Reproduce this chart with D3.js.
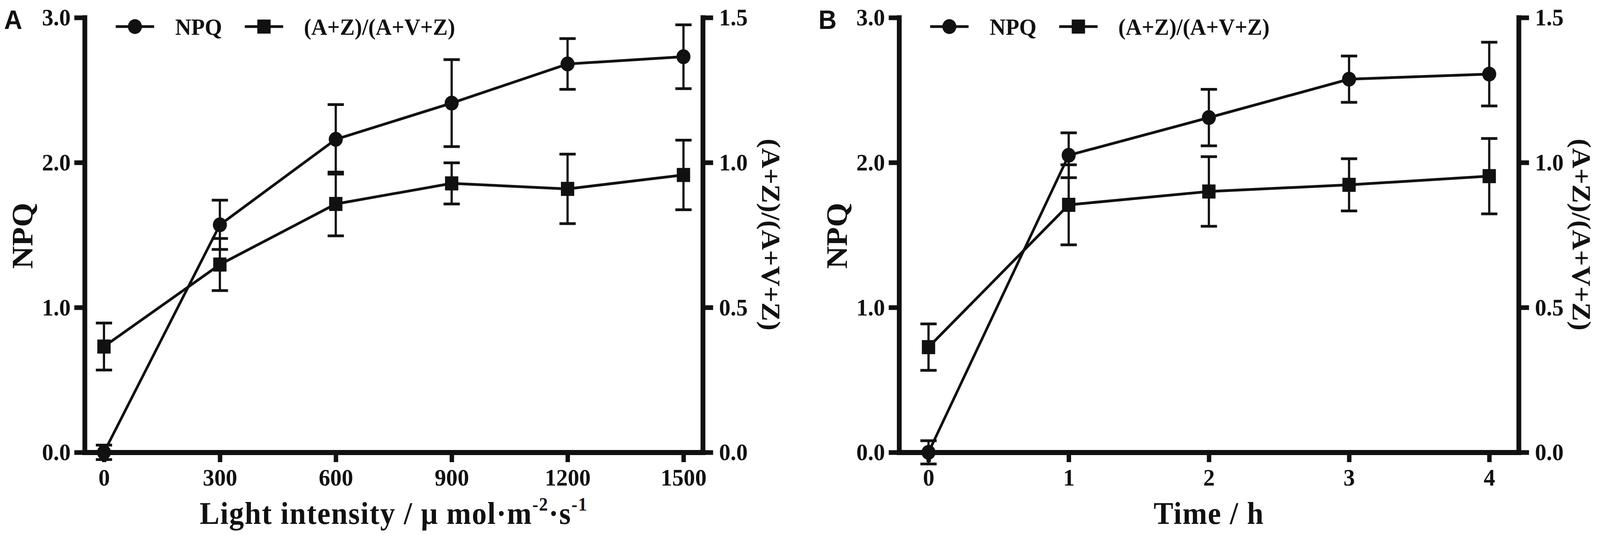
<!DOCTYPE html>
<html>
<head>
<meta charset="utf-8">
<script src="https://cdn.jsdelivr.net/npm/d3@7"></script>
<style>
  html, body { margin: 0; padding: 0; background: #fff; overflow: hidden; }
  .chart svg { display: block; width: 100vw; height: 100vh; }
</style>
</head>
<body>
<div class="chart"></div>
<script>
// panel A: light intensity
const lightLevels = [0, 300, 600, 900, 1200, 1500];
const npqLight = [0, 1.57, 2.16, 2.41, 2.68, 2.73];
const npqLightErr = [0.05, 0.17, 0.24, 0.30, 0.175, 0.22];
const ratioLight = [0.365, 0.648, 0.857, 0.928, 0.909, 0.957];
const ratioLightErr = [0.081, 0.09, 0.11, 0.071, 0.12, 0.12];

// panel B: time
const timePoints = [0, 1, 2, 3, 4];
const npqTime = [0, 2.05, 2.31, 2.575, 2.61];
const npqTimeErr = [0.08, 0.155, 0.195, 0.16, 0.22];
const ratioTime = [0.363, 0.854, 0.90, 0.923, 0.953];
const ratioTimeErr = [0.08, 0.138, 0.12, 0.09, 0.13];

// tick labels
const npqTicks = [0, 1, 2, 3];
const ratioTicks = [0, 0.5, 1.0, 1.5];
const lightTicks = [0, 300, 600, 900, 1200, 1500];
const timeTicks = [0, 1, 2, 3, 4];

const legendNames = ['NPQ', '(A+Z)/(A+V+Z)'];

const width = 4328;
const height = 1371;
const ink = '#111';
const serif = '"Liberation Serif", "Times New Roman", serif';

// the svg fills the window whatever its real size
const svg = d3.select('.chart')
    .append('svg')
    .attr('viewBox', `0 0 ${width} ${height}`)
    .attr('preserveAspectRatio', 'none');

svg.append('rect').attr('width', width).attr('height', height).attr('fill', '#fff');

drawPanel({
    letter: 'A',
    x: lightLevels, npq: npqLight, npqErr: npqLightErr, ratio: ratioLight, ratioErr: ratioLightErr,
    xTicks: lightTicks, xDomain: [-50, 1550], xRange: [229, 1901],
    xTitle: 'light', rightOffset: 160
});

drawPanel({
    letter: 'B',
    x: timePoints, npq: npqTime, npqErr: npqTimeErr, ratio: ratioTime, ratioErr: ratioTimeErr,
    xTicks: timeTicks, xDomain: [-0.21, 4.21], xRange: [2432, 4108],
    xTitle: 'time', rightOffset: 146
});

function label(sel) {
    return sel.attr('font-family', serif).attr('font-weight', 'bold').attr('fill', ink);
}

function drawPanel(p) {
    const left = p.xRange[0];
    const right = p.xRange[1];
    const x = d3.scaleLinear().domain(p.xDomain).range(p.xRange);
    const y = d3.scaleLinear().domain([0, 3]).range([1157, 45]);
    const y2 = d3.scaleLinear().domain([0, 1.5]).range([1157, 45]);

    const g = svg.append('g');

    // axes
    const xAxis = g.append('g')
        .attr('transform', `translate(0,${y(0)})`)
        .call(d3.axisBottom(x).tickValues(p.xTicks).tickFormat(d3.format('d'))
            .tickSize(25).tickSizeOuter(0).tickPadding(16));
    const yAxis = g.append('g')
        .attr('transform', `translate(${left},0)`)
        .call(d3.axisLeft(y).tickValues(npqTicks).tickFormat(d3.format('.1f'))
            .tickSize(28).tickSizeOuter(0).tickPadding(10));
    const y2Axis = g.append('g')
        .attr('transform', `translate(${right},0)`)
        .call(d3.axisRight(y2).tickValues(ratioTicks).tickFormat(d3.format('.1f'))
            .tickSize(28).tickSizeOuter(0).tickPadding(16));

    [xAxis, yAxis, y2Axis].forEach(a => {
        a.select('.domain').attr('stroke', ink).attr('stroke-width', 13).attr('stroke-linecap', 'square');
        a.selectAll('.tick line').attr('stroke', ink).attr('stroke-width', 12);
        a.selectAll('.tick text')
            .call(label)
            .attr('font-size', '62px');
    });

    // axis titles
    g.append('text')
        .call(label)
        .attr('transform', `translate(${left - 141},603) rotate(-90)`)
        .attr('text-anchor', 'middle')
        .attr('font-size', '80px')
        .text('NPQ');

    g.append('text')
        .call(label)
        .attr('transform', `translate(${right + p.rightOffset},600) rotate(90)`)
        .attr('text-anchor', 'middle')
        .attr('font-size', '72px')
        .text('(A+Z)/(A+V+Z)');

    const xt = g.append('text')
        .call(label)
        .attr('x', (left + right) / 2)
        .attr('y', 1340)
        .attr('text-anchor', 'middle')
        .attr('font-size', '80px')
        .attr('letter-spacing', 2);
    if (p.xTitle === 'light') {
        xt.append('tspan').text('Light intensity / \u03bc mol\u00b7m');
        xt.append('tspan').attr('font-size', '48px').attr('dy', -34).text('-2');
        xt.append('tspan').attr('dy', 34).text('\u00b7s');
        xt.append('tspan').attr('font-size', '48px').attr('dy', -34).text('-1');
    } else {
        xt.text('Time / h');
    }

    // panel letter
    g.append('text')
        .attr('x', left - 218)
        .attr('y', 74)
        .attr('font-family', '"Liberation Sans", Arial, sans-serif')
        .attr('font-weight', 'bold')
        .attr('fill', ink)
        .attr('font-size', '68px')
        .text(p.letter);

    // series
    const npqData = p.x.map((v, i) => ({ x: v, y: p.npq[i], e: p.npqErr[i] }));
    const ratioData = p.x.map((v, i) => ({ x: v, y: p.ratio[i], e: p.ratioErr[i] }));

    const series = [
        { data: ratioData, scale: y2, shape: 'square' },
        { data: npqData, scale: y, shape: 'circle' }
    ];

    series.forEach(s => {
        const line = d3.line().x(d => x(d.x)).y(d => s.scale(d.y));
        g.append('path')
            .datum(s.data)
            .attr('d', line)
            .attr('fill', 'none')
            .attr('stroke', ink)
            .attr('stroke-width', 7);
    });

    series.forEach(s => {
        // error bars
        const eb = g.selectAll(null)
            .data(s.data)
            .enter()
            .append('g');
        eb.append('line')
            .attr('x1', d => x(d.x)).attr('x2', d => x(d.x))
            .attr('y1', d => s.scale(d.y - d.e)).attr('y2', d => s.scale(d.y + d.e))
            .attr('stroke', ink).attr('stroke-width', 6);
        [-1, 1].forEach(sign => {
            eb.append('line')
                .attr('x1', d => x(d.x) - 22).attr('x2', d => x(d.x) + 22)
                .attr('y1', d => s.scale(d.y + sign * d.e)).attr('y2', d => s.scale(d.y + sign * d.e))
                .attr('stroke', ink).attr('stroke-width', 7);
        });
    });

    series.forEach(s => {
        // markers
        if (s.shape === 'circle') {
            g.selectAll(null)
                .data(s.data)
                .enter()
                .append('circle')
                .attr('cx', d => x(d.x))
                .attr('cy', d => s.scale(d.y))
                .attr('r', 19)
                .attr('fill', ink);
        } else {
            g.selectAll(null)
                .data(s.data)
                .enter()
                .append('rect')
                .attr('x', d => x(d.x) - 18)
                .attr('y', d => s.scale(d.y) - 18)
                .attr('width', 36)
                .attr('height', 36)
                .attr('fill', ink);
        }
    });

    // legend
    const leg = g.append('g').attr('transform', `translate(${left},68)`);
    leg.append('line').attr('x1', 84).attr('x2', 188).attr('stroke', ink).attr('stroke-width', 7);
    leg.append('circle').attr('cx', 136).attr('r', 19).attr('fill', ink);
    leg.append('text').call(label).attr('x', 245).attr('y', 21).attr('font-size', '60px').text(legendNames[0]);
    leg.append('line').attr('x1', 433).attr('x2', 537).attr('stroke', ink).attr('stroke-width', 7);
    leg.append('rect').attr('x', 467).attr('y', -18).attr('width', 36).attr('height', 36).attr('fill', ink);
    leg.append('text').call(label).attr('x', 593).attr('y', 21).attr('font-size', '60px').text(legendNames[1]);
}
</script>
</body>
</html>
